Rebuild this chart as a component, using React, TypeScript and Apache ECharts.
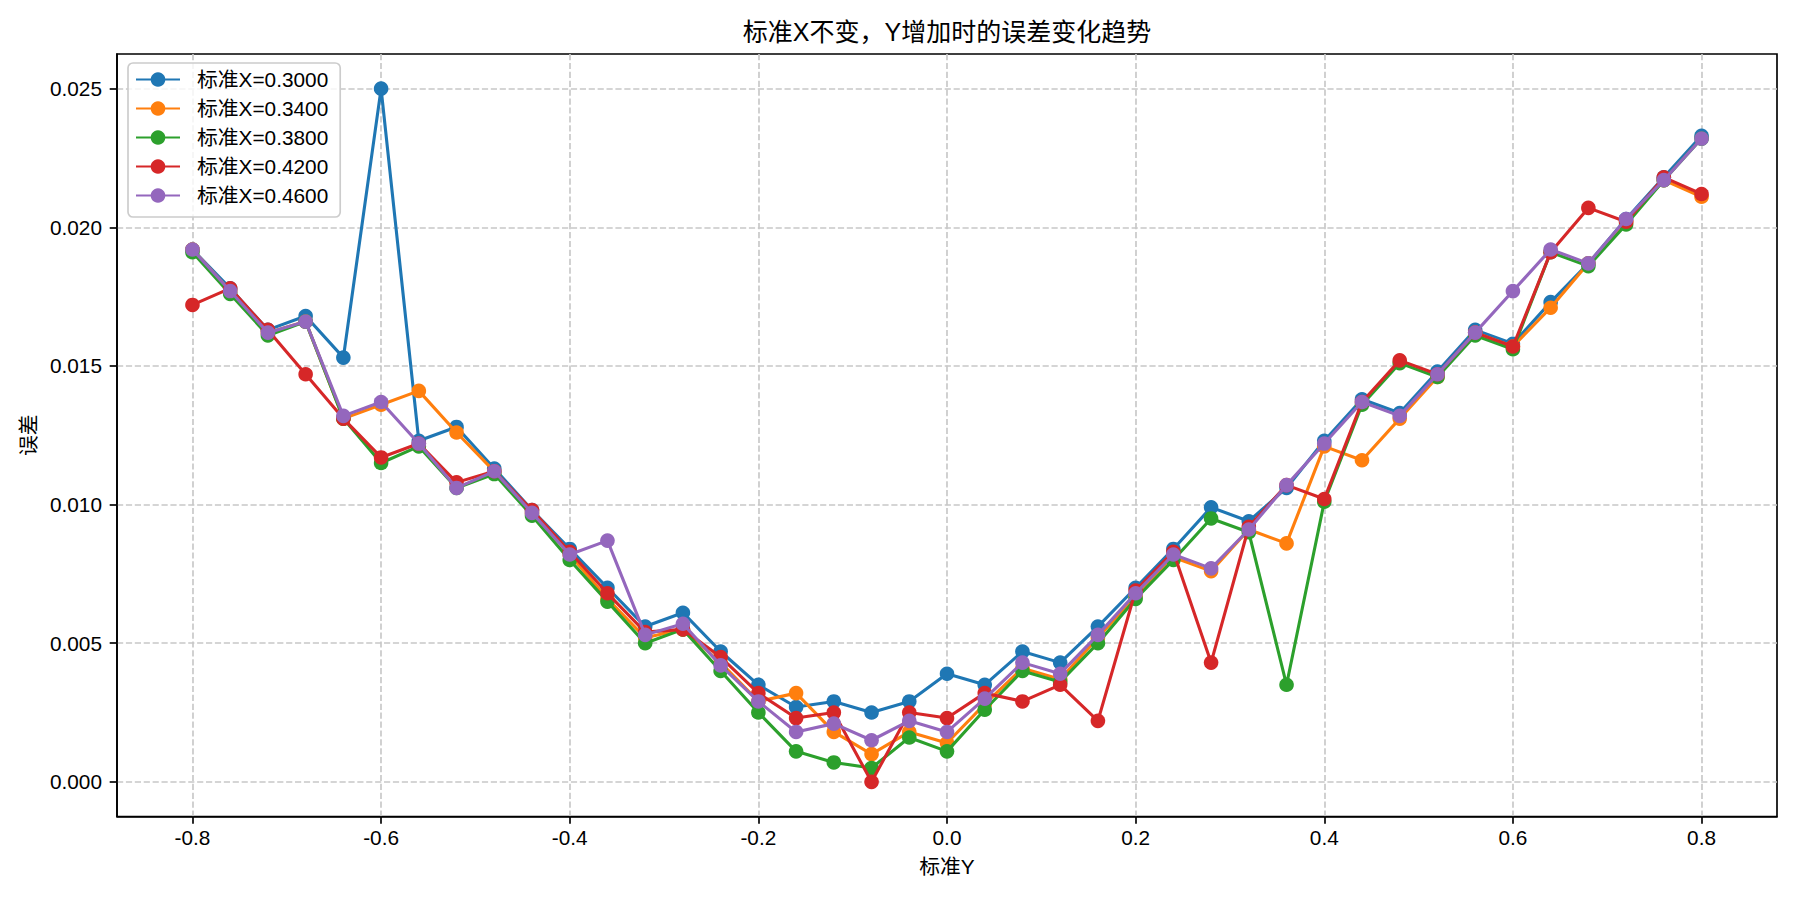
import React, { useEffect, useRef } from "react";
import * as echarts from "echarts";

const FONT = "'Liberation Sans', 'Noto Sans CJK SC', Arial, sans-serif";

const TITLE = "标准X不变，Y增加时的误差变化趋势";
const X_NAME = "标准Y";
const Y_NAME = "误差";

const standardY = [
  -0.8, -0.76, -0.72, -0.68, -0.64, -0.6, -0.56, -0.52, -0.48, -0.44, -0.4,
  -0.36, -0.32, -0.28, -0.24, -0.2, -0.16, -0.12, -0.08, -0.04, 0.0, 0.04,
  0.08, 0.12, 0.16, 0.2, 0.24, 0.28, 0.32, 0.36, 0.4, 0.44, 0.48, 0.52, 0.56,
  0.6, 0.64, 0.68, 0.72, 0.76, 0.8,
];

const seriesNames = [
  "标准X=0.3000",
  "标准X=0.3400",
  "标准X=0.3800",
  "标准X=0.4200",
  "标准X=0.4600",
];

const errX0300 = [
  0.0192, 0.0178, 0.0163, 0.0168, 0.0153, 0.025, 0.0123, 0.0128, 0.0113,
  0.0098, 0.0084, 0.007, 0.0056, 0.0061, 0.0047, 0.0035, 0.0027, 0.0029,
  0.0025, 0.0029, 0.0039, 0.0035, 0.0047, 0.0043, 0.0056, 0.007, 0.0084,
  0.0099, 0.0094, 0.0106, 0.0123, 0.0138, 0.0133, 0.0148, 0.0163, 0.0158,
  0.0173, 0.0187, 0.0203, 0.0218, 0.0233,
];

const errX0340 = [
  0.0192, 0.0177, 0.0162, 0.0166, 0.0131, 0.0136, 0.0141, 0.0126, 0.0112,
  0.0097, 0.0082, 0.0066, 0.0052, 0.0055, 0.0043, 0.0029, 0.0032, 0.0018,
  0.001, 0.0018, 0.0014, 0.0028, 0.0041, 0.0037, 0.0052, 0.0067, 0.0081,
  0.0076, 0.0091, 0.0086, 0.0121, 0.0116, 0.0131, 0.0146, 0.0162, 0.0157,
  0.0171, 0.0187, 0.0202, 0.0217, 0.0211,
];

const errX0380 = [
  0.0191, 0.0176, 0.0161, 0.0166, 0.0131, 0.0115, 0.0121, 0.0106, 0.0111,
  0.0096, 0.008, 0.0065, 0.005, 0.0055, 0.004, 0.0025, 0.0011, 0.0007,
  0.0005, 0.0016, 0.0011, 0.0026, 0.004, 0.0036, 0.005, 0.0066, 0.008,
  0.0095, 0.009, 0.0035, 0.0101, 0.0136, 0.0151, 0.0146, 0.0161, 0.0156,
  0.0191, 0.0186, 0.0201, 0.0217, 0.0232,
];

const errX0420 = [
  0.0172, 0.0178, 0.0163, 0.0147, 0.0131, 0.0117, 0.0122, 0.0108, 0.0112,
  0.0098, 0.0083, 0.0068, 0.0054, 0.0055, 0.0045, 0.0032, 0.0023, 0.0025,
  0.0, 0.0025, 0.0023, 0.0032, 0.0029, 0.0035, 0.0022, 0.0069, 0.0083,
  0.0043, 0.0092, 0.0107, 0.0102, 0.0137, 0.0152, 0.0147, 0.0162, 0.0157,
  0.0191, 0.0207, 0.0202, 0.0218, 0.0212,
];

const errX0460 = [
  0.0192, 0.0177, 0.0162, 0.0166, 0.0132, 0.0137, 0.0122, 0.0106, 0.0112,
  0.0097, 0.0082, 0.0087, 0.0053, 0.0057, 0.0042, 0.0029, 0.0018, 0.0021,
  0.0015, 0.0022, 0.0018, 0.003, 0.0043, 0.0039, 0.0053, 0.0068, 0.0082,
  0.0077, 0.0091, 0.0107, 0.0122, 0.0137, 0.0132, 0.0147, 0.0162, 0.0177,
  0.0192, 0.0187, 0.0203, 0.0217, 0.0232,
];

const xTickValues = [-0.8, -0.6, -0.4, -0.2, 0, 0.2, 0.4, 0.6, 0.8];
const yTickValues = [0, 0.005, 0.01, 0.015, 0.02, 0.025];

const colors = ["#1f77b4", "#ff7f0e", "#2ca02c", "#d62728", "#9467bd"];

const allSeries = [errX0300, errX0340, errX0380, errX0420, errX0460];

export default function App() {
  const ref = useRef<HTMLDivElement>(null);

  useEffect(() => {
    document.body.style.margin = "0";
    document.body.style.overflow = "hidden";
    if (!ref.current) return;
    const chart = echarts.init(ref.current, undefined, { renderer: "svg" });

    const axisLineStyle = { color: "#000", width: 1.67 };
    const gridLineStyle = { color: "#c8c8c8", width: 1.67, type: [6.2, 2.7] };
    const labelText = { fontSize: 20.8, color: "#000", fontFamily: FONT };

    const option: any = {
      animation: false,
      backgroundColor: "#ffffff",
      textStyle: { fontFamily: FONT },
      color: colors,
      title: {
        text: TITLE,
        left: 947,
        textAlign: "center",
        top: 19,
        padding: 0,
        textStyle: {
          fontSize: 25,
          fontWeight: "normal",
          color: "#000",
          fontFamily: FONT,
        },
      },
      grid: {
        left: 117,
        right: 23,
        top: 54,
        bottom: 83.5,
        show: true,
        borderColor: "#000",
        borderWidth: 1.67,
        backgroundColor: "transparent",
        containLabel: false,
      },
      legend: {
        orient: "vertical",
        left: 128,
        top: 63,
        padding: [6, 12, 11, 7],
        itemGap: 8,
        itemWidth: 44,
        itemHeight: 18.2,
        backgroundColor: "rgba(255,255,255,0.8)",
        borderColor: "#cccccc",
        borderWidth: 1.67,
        borderRadius: 5,
        textStyle: {
          fontSize: 20.8,
          color: "#000",
          fontFamily: FONT,
          lineHeight: 21,
          padding: [0, 0, 0, 12],
        },
        data: seriesNames,
      },
      xAxis: {
        type: "value",
        min: -0.88,
        max: 0.88,
        name: X_NAME,
        nameLocation: "middle",
        nameGap: 40,
        nameTextStyle: labelText,
        axisLine: { show: true, onZero: false, lineStyle: axisLineStyle },
        axisTick: {
          show: true,
          inside: false,
          length: 7.3,
          customValues: xTickValues,
          lineStyle: axisLineStyle,
        },
        axisLabel: {
          show: true,
          customValues: xTickValues,
          margin: 11,
          ...labelText,
          formatter: (v: number) => v.toFixed(1),
        },
        splitLine: { show: true, lineStyle: gridLineStyle },
      },
      yAxis: {
        type: "value",
        min: -0.00125,
        max: 0.02625,
        name: Y_NAME,
        nameLocation: "middle",
        nameGap: 75,
        nameTextStyle: labelText,
        axisLine: { show: true, onZero: false, lineStyle: axisLineStyle },
        axisTick: {
          show: true,
          inside: false,
          length: 7.3,
          customValues: yTickValues,
          lineStyle: axisLineStyle,
        },
        axisLabel: {
          show: true,
          customValues: yTickValues,
          margin: 15,
          ...labelText,
          formatter: (v: number) => v.toFixed(3),
        },
        splitLine: { show: true, lineStyle: gridLineStyle },
      },
      series: allSeries.map((vals, i) => ({
        type: "line",
        name: seriesNames[i],
        data: standardY.map((x, j) => [x, vals[j]]),
        symbol: "circle",
        symbolSize: 14.6,
        showSymbol: true,
        showAllSymbol: true,
        z: 2 + i,
        clip: false,
        lineStyle: { width: 3.1, color: colors[i], join: "round" },
        itemStyle: { color: colors[i], borderWidth: 0 },
        emphasis: { disabled: true },
      })),
    };

    chart.setOption(option);
    return () => {
      chart.dispose();
    };
  }, []);

  return <div ref={ref} style={{ width: 1800, height: 900 }} />;
}
